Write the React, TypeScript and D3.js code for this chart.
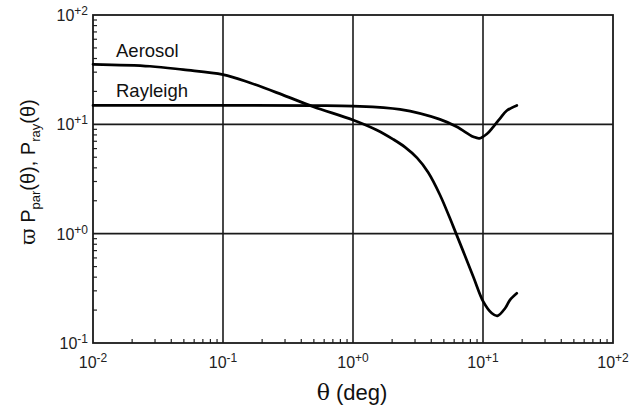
import React from "react";
import * as d3 from "d3";

const xTicks = [0.01, 0.1, 1, 10, 100];
const xTickExp = ["-2", "-1", "+0", "+1", "+2"];
const yTicks = [0.1, 1, 10, 100];
const yTickExp = ["-1", "+0", "+1", "+2"];

const aerosolTheta = [0.01, 0.0274, 0.0495, 0.1, 0.161, 0.291, 0.495, 1.0, 1.52, 2.04, 2.51, 3.11, 3.78, 4.67, 5.91, 8.42, 10.05, 11.7, 12.9, 14.8, 16.1, 18.2];
const aerosolP = [35.4, 34.0, 31.6, 28.5, 24.0, 18.5, 14.5, 10.96, 8.88, 7.29, 6.19, 4.93, 3.65, 2.26, 1.16, 0.404, 0.239, 0.187, 0.177, 0.208, 0.247, 0.285];

const rayleighTheta = [0.01, 0.1, 0.5, 1.0, 2.3, 4.67, 6.28, 8.42, 9.38, 10.7, 12.0, 13.5, 15.2, 18.2];
const rayleighP = [14.9, 14.9, 14.85, 14.7, 13.7, 11.1, 9.5, 7.7, 7.45, 8.16, 9.5, 11.3, 13.3, 14.9];

const W = 644;
const H = 406;
const L = 93, R = 613, T = 15, B = 343;

export default function App() {
  const x = d3.scaleLog().domain([0.01, 100]).range([L, R]);
  const y = d3.scaleLog().domain([0.1, 100]).range([B, T]);

  const line = d3
    .line<[number, number]>()
    .x((d) => x(d[0]))
    .y((d) => y(d[1]))
    .curve(d3.curveCatmullRom.alpha(0.5));

  const aer = aerosolTheta.map((t, i) => [t, aerosolP[i]] as [number, number]);
  const ray = rayleighTheta.map((t, i) => [t, rayleighP[i]] as [number, number]);

  const minorX: number[] = [];
  for (let e = -2; e < 2; e++) for (let k = 2; k <= 9; k++) minorX.push(k * Math.pow(10, e));
  const minorY: number[] = [];
  for (let e = -1; e < 2; e++) for (let k = 2; k <= 9; k++) minorY.push(k * Math.pow(10, e));

  const font = "Liberation Sans, Arial, Helvetica, sans-serif";

  return (
    <svg width={W} height={H} style={{ position: "absolute", left: 0, top: 0, background: "#fff" }} fontFamily={font}>
      <rect x={0} y={0} width={W} height={H} fill="#fff" />
      {/* grid */}
      {xTicks.slice(1, -1).map((t) => (
        <line key={"gx" + t} x1={x(t)} x2={x(t)} y1={T} y2={B} stroke="#1a1a1a" strokeWidth={1.6} />
      ))}
      {yTicks.slice(1, -1).map((t) => (
        <line key={"gy" + t} x1={L} x2={R} y1={y(t)} y2={y(t)} stroke="#1a1a1a" strokeWidth={1.6} />
      ))}
      {/* minor ticks */}
      {minorX.map((t) => (
        <line key={"mx" + t} x1={x(t)} x2={x(t)} y1={B} y2={B - 4} stroke="#222" strokeWidth={1.2} />
      ))}
      {minorY.map((t) => (
        <line key={"my" + t} x1={L} x2={L + 4} y1={y(t)} y2={y(t)} stroke="#222" strokeWidth={1.2} />
      ))}
      {/* frame */}
      <rect x={L} y={T} width={R - L} height={B - T} fill="none" stroke="#1a1a1a" strokeWidth={1.8} />
      {/* curves */}
      <path d={line(aer) || ""} fill="none" stroke="#000" strokeWidth={2.7} strokeLinejoin="round" strokeLinecap="round" />
      <path d={line(ray) || ""} fill="none" stroke="#000" strokeWidth={2.7} strokeLinejoin="round" strokeLinecap="round" />
      {/* tick labels */}
      {xTicks.map((t, i) => (
        <text key={"xl" + t} x={x(t)} y={368} textAnchor="middle" fontSize={16} fill="#222">
          10<tspan fontSize={12} dy={-6}>{xTickExp[i]}</tspan>
        </text>
      ))}
      {yTicks.map((t, i) => (
        <text key={"yl" + t} x={88} y={y(t) + 6} textAnchor="end" fontSize={16} fill="#222">
          10<tspan fontSize={12} dy={-6}>{yTickExp[i]}</tspan>
        </text>
      ))}
      {/* series labels */}
      <text x={116} y={57} fontSize={18.5} fill="#111">Aerosol</text>
      <text x={116} y={97} fontSize={18.5} fill="#111">Rayleigh</text>
      {/* axis titles */}
      <text x={352} y={400} textAnchor="middle" fontSize={22} fill="#111">
        <tspan fontFamily="DejaVu Serif, serif">θ</tspan> (deg)
      </text>
      <text transform="translate(35,172) rotate(-90)" textAnchor="middle" fontSize={20} fill="#111">
        <tspan fontFamily="DejaVu Serif, serif">ϖ</tspan> P<tspan fontSize={13} dy={5}>par</tspan>
        <tspan dy={-5}>(θ), P</tspan><tspan fontSize={13} dy={5}>ray</tspan><tspan dy={-5}>(θ)</tspan>
      </text>
    </svg>
  );
}
